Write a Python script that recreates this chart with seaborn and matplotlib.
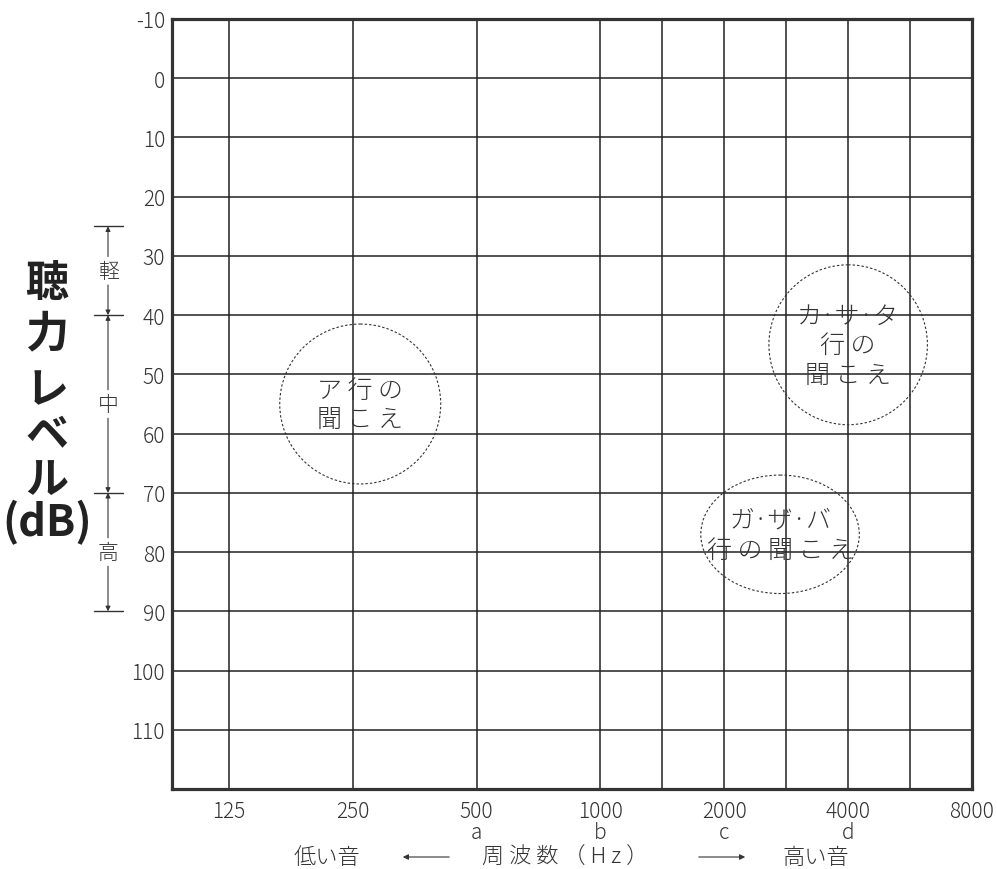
import numpy as np
import matplotlib
matplotlib.use("Agg")
import matplotlib.pyplot as plt
from matplotlib.patches import Ellipse, FancyArrowPatch
import seaborn as sns

sns.set_theme(style="white")
plt.rcParams['font.family'] = ['Noto Sans CJK JP', 'DejaVu Sans']
plt.rcParams['axes.unicode_minus'] = False

# audiogram axes
freq_labels = ["125", "250", "500", "1000", "2000", "4000", "8000"]
freq_letters = ["", "", "a", "b", "c", "d", ""]
mid_after = [3, 4, 5]          # half-octave lines (1500, 3000, 6000)
db_ticks = list(range(-10, 120, 10))
db_range = (-10, 120)

# hearing degree bands on the left (軽 / 中 / 高)
band_names = ["軽", "中", "高"]
band_edges = [25, 40, 70, 90]

# speech sound regions (center index, center dB, width, height, text)
region_x = [1.06, 5.0, 4.45]
region_y = [55, 45, 77]
region_w = [1.30, 1.28, 1.28]
region_h = [27, 27, 20]
region_text = ["ア 行 の\n聞 こ え", "カ·サ·タ\n行 の\n聞 こ え", "ガ·ザ·バ\n行 の 聞 こ え"]

ylabel_chars = ["聴", "力", "レ", "ベ", "ル", "(dB)"]

ink = "#222222"
txt = "#333333"
W, H = 997, 870
fig = plt.figure(figsize=(W / 100, H / 100), dpi=100)
ax = fig.add_axes([172 / W, 1 - 790 / H, 800 / W, 770 / H])

xpos = np.arange(len(freq_labels))
ax.set_xlim(-0.46, xpos[-1])
ax.set_ylim(db_range[1], db_range[0])

ax.set_yticks(db_ticks)
ax.set_yticklabels([str(v) for v in db_ticks], fontsize=15, color=txt, fontweight="light")
ax.set_xticks(xpos)
ax.set_xticklabels([f"{f}\n{l}" if l else f for f, l in zip(freq_labels, freq_letters)],
                   fontsize=15, color=txt, linespacing=0.95, fontweight="light")
ax.tick_params(axis="both", length=0)
ax.tick_params(axis="y", pad=5)
ax.tick_params(axis="x", pad=8)

ax.grid(True, color=ink, linewidth=1.1)
for i in mid_after:
    ax.axvline((xpos[i] + xpos[i + 1]) / 2, color=ink, linewidth=1.1)
for s in ax.spines.values():
    s.set_color(txt)
    s.set_linewidth(2.3)
    s.set_visible(True)

# dotted regions with labels
for cx, cy, w, h, t in zip(region_x, region_y, region_w, region_h, region_text):
    ax.add_patch(Ellipse((cx, cy), w, h, fill=False, edgecolor=txt,
                         linewidth=0.8, linestyle=(0, (2.2, 1.8)), zorder=3))
    ax.text(cx, cy, t, ha="center", va="center", fontsize=18, color=txt,
            linespacing=1.15, fontweight="light", zorder=4)

# left bracket scale
ytr = ax.get_yaxis_transform()
x0, x1, xa = (94 - 172) / 800, (123 - 172) / 800, (108 - 172) / 800
for e in band_edges:
    ax.plot([x0, x1], [e, e], transform=ytr, color=txt, lw=1.0, clip_on=False)
gap = 2.4
for name, lo, hi in zip(band_names, band_edges[:-1], band_edges[1:]):
    mid = (lo + hi) / 2
    ax.text(xa, mid, name, transform=ytr, ha="center", va="center",
            fontsize=15, color=txt, fontweight="light")
    for start, end in [(mid - gap, lo), (mid + gap, hi)]:
        ax.annotate("", xy=(xa, end), xytext=(xa, start), xycoords=ytr, textcoords=ytr,
                    arrowprops=dict(arrowstyle="-|>", color=txt, lw=0.8,
                                    mutation_scale=7, shrinkA=0, shrinkB=0))

# big vertical y label
ylab_y = [283, 333, 390, 434, 480, 523]
for ch, py in zip(ylabel_chars, ylab_y):
    fig.text(47 / W, 1 - py / H, ch, ha="center", va="center", fontsize=31,
             fontweight="bold", color=ink)

# bottom caption
yb = 1 - 858 / H
fig.text(327 / W, yb, "低い音", ha="center", va="center", fontsize=16, color=txt, fontweight="light")
fig.text(565 / W, yb, "周 波 数 （ H z ）", ha="center", va="center", fontsize=16, color=txt, fontweight="light")
fig.text(816 / W, yb, "高い音", ha="center", va="center", fontsize=16, color=txt, fontweight="light")
for xs, xe in [(452, 400), (696, 748)]:
    fig.add_artist(FancyArrowPatch((xs / W, yb), (xe / W, yb), transform=fig.transFigure,
                                   arrowstyle="-|>", mutation_scale=8, color=txt, lw=0.8))

fig.savefig("out.png", dpi=100, facecolor="white")
